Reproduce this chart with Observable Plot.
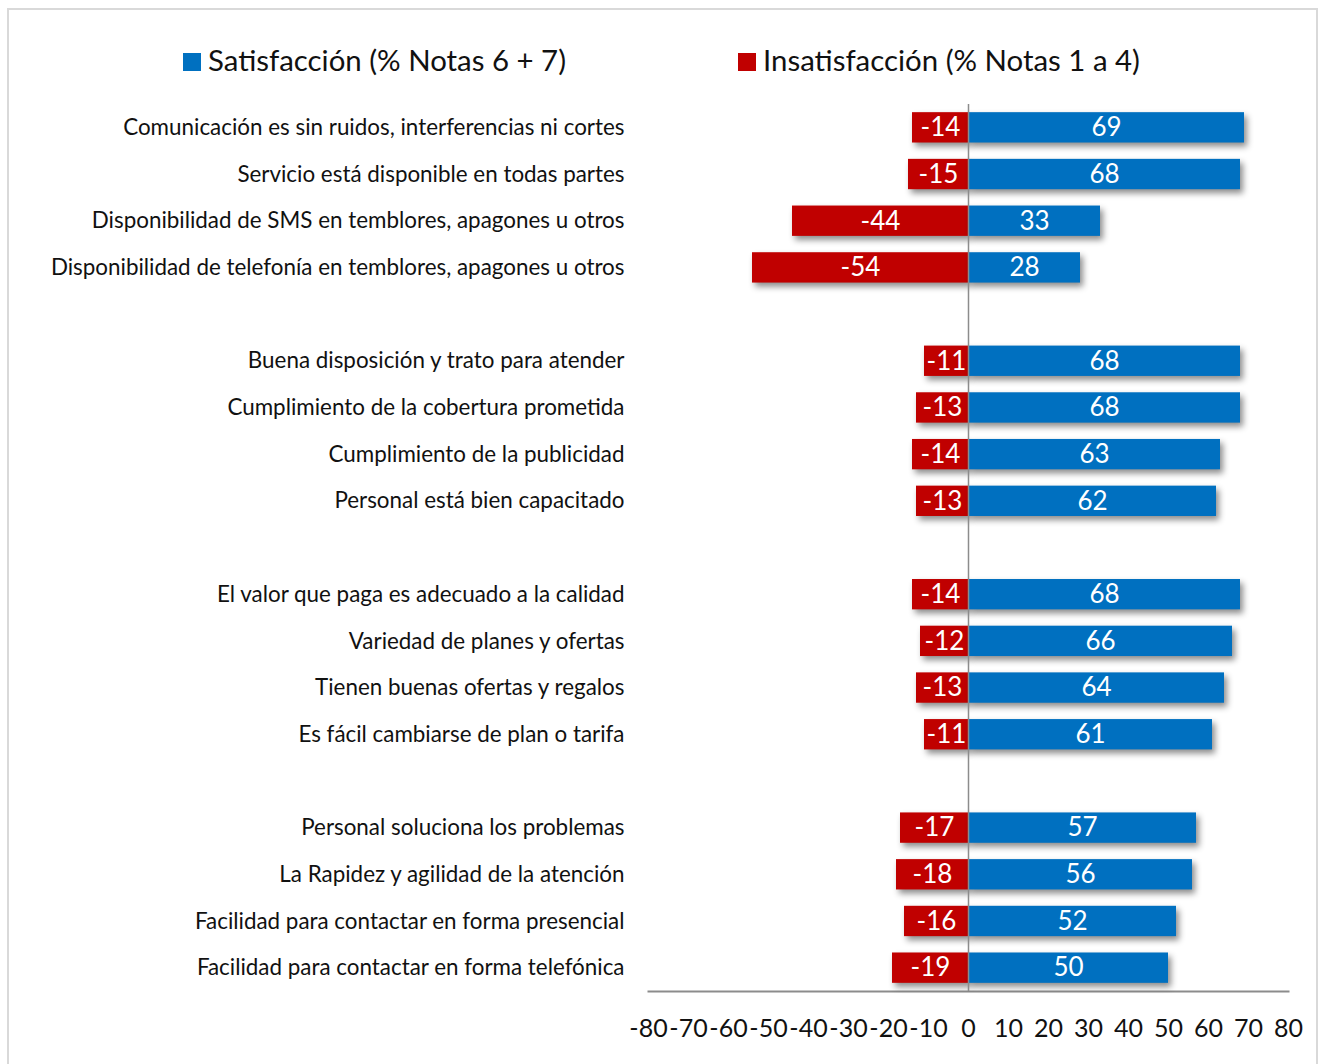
<!DOCTYPE html>
<html>
<head>
<meta charset="utf-8">
<script src="https://cdn.jsdelivr.net/npm/d3@7"></script>
<script src="https://cdn.jsdelivr.net/npm/@observablehq/plot@0.6"></script>
<style>
  html, body { margin: 0; padding: 0; background: #fff; }
  body { width: 1320px; height: 1064px; position: relative; overflow: hidden; font-family: Lato, "Open Sans", sans-serif; }
  #border { position: absolute; left: 7px; top: 8px; width: 1311px; height: 1080px; border: 2px solid #d9d9d9; box-sizing: border-box; }
  .leg { position: absolute; top: 40px; font-size: 29.4px; color: #111; white-space: nowrap; line-height: 40px; }
  .sw { display: inline-block; width: 18px; height: 18px; margin-right: 7px; vertical-align: 0px; }
  #chart { position: absolute; left: 0; top: 80px; }
</style>
</head>
<body>
<div id="border"></div>
<div class="leg" style="left:183px"><span class="sw" style="background:#0070C0"></span>Satisfacción (% Notas 6 + 7)</div>
<div class="leg" style="left:738px"><span class="sw" style="background:#C00000"></span>Insatisfacción (% Notas 1 a 4)</div>
<div id="chart"></div>
<script>
const categories = [
  "Comunicación es sin ruidos, interferencias ni cortes",
  "Servicio está disponible en todas partes",
  "Disponibilidad de SMS en temblores, apagones u otros",
  "Disponibilidad de telefonía en temblores, apagones u otros",
  "Buena disposición y trato para atender",
  "Cumplimiento de la cobertura prometida",
  "Cumplimiento de la publicidad",
  "Personal está bien capacitado",
  "El valor que paga es adecuado a la calidad",
  "Variedad de planes y ofertas",
  "Tienen buenas ofertas y regalos",
  "Es fácil cambiarse de plan o tarifa",
  "Personal soluciona los problemas",
  "La Rapidez y agilidad de la atención",
  "Facilidad para contactar en forma presencial",
  "Facilidad para contactar en forma telefónica"
];
const groupIndex = [0,0,0,0,1,1,1,1,2,2,2,2,3,3,3,3];
const satisfaccion = [69, 68, 33, 28, 68, 68, 63, 62, 68, 66, 64, 61, 57, 56, 52, 50];
const insatisfaccion = [-14, -15, -44, -54, -11, -13, -14, -13, -14, -12, -13, -11, -17, -18, -16, -19];
const xTicks = [-80, -70, -60, -50, -40, -30, -20, -10, 0, 10, 20, 30, 40, 50, 60, 70, 80];
const colors = { sat: "#0070C0", insat: "#C00000" };

// y domain with empty spacer bands between groups
const gapNames = [" ", "  ", "   "];
const domain = [];
categories.forEach((c, i) => {
  if (i > 0 && groupIndex[i] !== groupIndex[i - 1]) domain.push(gapNames[groupIndex[i] - 1]);
  domain.push(c);
});
const rows = categories.map((c, i) => ({ cat: c, sat: satisfaccion[i], insat: insatisfaccion[i] }));
const fmt = d => String(d);

const chart = Plot.plot({
  width: 1320,
  height: 984,
  marginLeft: 648,
  marginRight: 32,
  marginTop: 24,
  marginBottom: 73,
  style: { fontFamily: "Lato, 'Open Sans', sans-serif", color: "#111", background: "transparent" },
  x: { domain: [-80, 80], ticks: xTicks, tickFormat: fmt },
  y: { domain, paddingInner: 0.35, paddingOuter: 0.175, round: false, label: null },
  marks: [
    Plot.frame({ anchor: "bottom", stroke: "#8c8c8c", strokeWidth: 2 }),
    Plot.barX(rows, { x: "insat", y: "cat", fill: colors.insat }),
    Plot.barX(rows, { x: "sat", y: "cat", fill: colors.sat }),
    Plot.ruleX([0], { stroke: "#8c8c8c", strokeWidth: 1.5 }),
    Plot.text(rows, { x: d => d.insat / 2, y: "cat", text: d => String(d.insat), fill: "white", fontSize: 26 }),
    Plot.text(rows, { x: d => d.sat / 2, y: "cat", text: d => String(d.sat), fill: "white", fontSize: 26 }),
    Plot.axisY({ tickSize: 0, tickPadding: 24, fontSize: 22.4, label: null, tickFormat: d => d.trim() === "" ? "" : d }),
    Plot.axisX({ ticks: xTicks, tickSize: 0, tickPadding: 28, fontSize: 25, label: null, tickFormat: fmt })
  ]
});
document.getElementById("chart").appendChild(chart);
d3.select(chart).selectAll('g[aria-label="bar"]').style("filter", "drop-shadow(3px 4px 3px rgba(0,0,0,0.45))");
</script>
</body>
</html>
